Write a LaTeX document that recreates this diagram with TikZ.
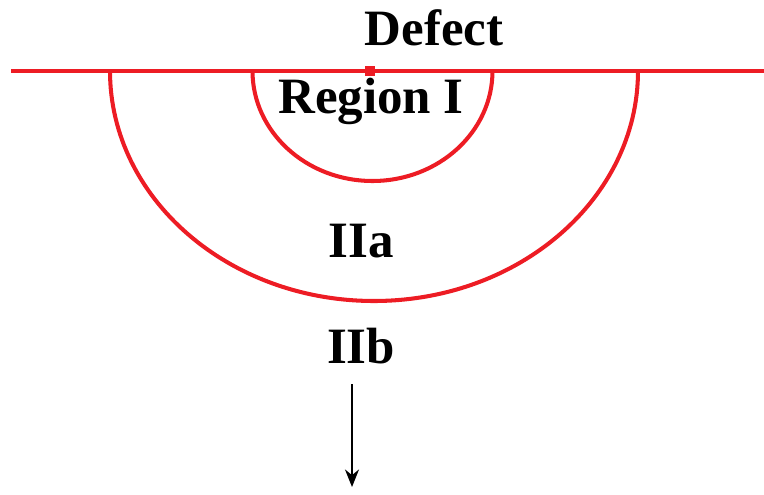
\documentclass[tikz,border=0pt]{standalone}
\usepackage{fontspec}
\setmainfont{Liberation Serif}
\usepackage{xcolor}
\usetikzlibrary{arrows.meta}
\definecolor{boundred}{HTML}{ED1C24}
\definecolor{labelink}{HTML}{000000}

\begin{document}
\begin{tikzpicture}[
  x=0.02cm,
  y=0.02cm,
  every node/.style={font=\fontsize{29}{33}\selectfont\bfseries, labelink},
  surface/.style={boundred, line width=2.3pt},
  bound/.style={boundred, line width=2.3pt},
  defectpt/.style={rectangle, fill=boundred, inner sep=0pt, minimum size=6pt},
  arrow/.style={labelink, line width=0.8pt, -{Stealth[length=10pt, width=8pt]}}
]
  \useasboundingbox (0,0) rectangle (764,494);

  % ---- region boundaries ----
  \draw[bound] (252.5,423) arc[start angle=180, end angle=360,
                               x radius=120, y radius=110];
  \draw[bound] (110,423) arc[start angle=180, end angle=360,
                             x radius=264, y radius=230];

  % ---- surface with the defect ----
  \draw[surface] (11,423) -- (764,423);
  \node[defectpt] (dot) at (370,423) {};

  % ---- labels ----
  \node (defect)    at (434,466) {Defect};
  \node (regionI)   at (371,393) {Region I};
  \node (regionIIa) at (361,253) {IIa};
  \node (regionIIb) at (361,148) {IIb};

  % ---- direction into the bulk ----
  \coordinate (deep) at (352,7);
  \draw[arrow] ([yshift=-8pt]regionIIb.south -| deep) -- (deep);
\end{tikzpicture}
\end{document}
